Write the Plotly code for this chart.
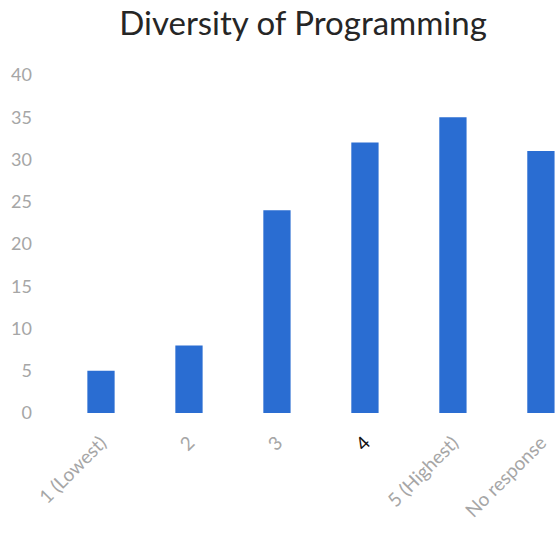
import plotly.graph_objects as go

categories = ["1 (Lowest)", "2", "3", "4", "5 (Highest)", "No response"]
counts = [5, 8, 24, 32, 35, 31]
tick_labels = ["1 (Lowest)", "2", "3", '<span style="color:#111111">4</span>', "5 (Highest)", "No response"]
y_ticks = [0, 5, 10, 15, 20, 25, 30, 35, 40]

fig = go.Figure(
    go.Bar(
        x=list(range(len(categories))),
        y=counts,
        width=0.31,
        marker=dict(color="#2a6dd2", line=dict(width=0)),
        hovertext=categories,
    )
)

fig.update_layout(
    width=555,
    height=534,
    margin=dict(l=57, r=0, t=75, b=121),
    paper_bgcolor="white",
    plot_bgcolor="white",
    showlegend=False,
    font=dict(family="Lato, sans-serif", color="#a6a6a6"),
    title=dict(
        text="Diversity of Programming",
        x=0.546,
        xanchor="center",
        y=0.956,
        yanchor="middle",
        font=dict(size=33, color="#262626", family="Lato, sans-serif"),
    ),
)

fig.update_xaxes(
    range=[-0.5, 5.16],
    tickmode="array",
    tickvals=list(range(len(categories))),
    ticktext=tick_labels,
    tickangle=-45,
    tickfont=dict(size=19, color="#a6a6a6"),
    showgrid=False,
    showline=False,
    zeroline=False,
    ticks="",
    ticklabelstandoff=14,
)

fig.update_yaxes(
    range=[0, 40],
    tickmode="array",
    tickvals=y_ticks,
    tickfont=dict(size=18, color="#a6a6a6"),
    showgrid=False,
    showline=False,
    zeroline=False,
    ticks="",
    ticklabelstandoff=24,
)

fig.write_html("out.html")
